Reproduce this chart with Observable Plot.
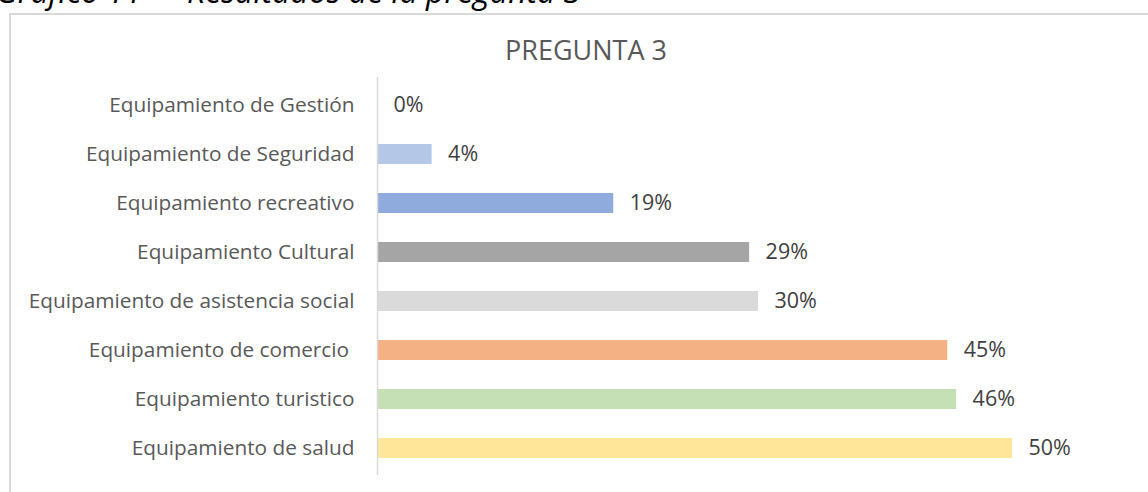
<!DOCTYPE html>
<html>
<head>
<meta charset="utf-8">
<script src="https://cdn.jsdelivr.net/npm/d3@7"></script>
<script src="https://cdn.jsdelivr.net/npm/@observablehq/plot@0.6"></script>
<style>
  html, body { margin: 0; padding: 0; background: #fff; overflow: hidden; }
  #page { position: relative; width: 1148px; height: 492px; overflow: hidden; }
  #caption { position: absolute; left: 0; top: 0; }
  #frame { position: absolute; left: 9px; top: 13px; width: 1200px; height: 600px; border: 2px solid #d9d9d9; box-sizing: border-box; }
  #title { position: absolute; left: 0; width: 1172px; top: 32px; text-align: center; font-family: "Open Sans", sans-serif; font-size: 27px; line-height: 36px; color: #595959; }
  #chart { position: absolute; left: 0; top: 0; }
</style>
</head>
<body>
<div id="page">
  <svg id="caption" width="1148" height="14" font-family="Open Sans, sans-serif" font-style="italic" font-size="32" fill="#000">
    <text x="-4" y="3">Gráfico 11</text>
    <text x="187" y="3">Resultados de la pregunta 3</text>
  </svg>
  <div id="frame"></div>
  <div id="title">PREGUNTA 3</div>
  <div id="chart"></div>
</div>
<script>
const categories = [
  "Equipamiento de Gestión",
  "Equipamiento de Seguridad",
  "Equipamiento recreativo",
  "Equipamiento Cultural",
  "Equipamiento de asistencia social",
  "Equipamiento de comercio ",
  "Equipamiento turistico",
  "Equipamiento de salud"
];
const values = [0, 0.043, 0.186, 0.293, 0.30, 0.449, 0.456, 0.50];
const colors = ["#b4c7e7", "#b4c7e7", "#8faadc", "#a5a5a5", "#dadada", "#f4b183", "#c5e0b4", "#ffe699"];

const data = categories.map((c, i) => ({category: c, value: values[i], color: colors[i]}));
const fmt = d3.format(".0%");

const chart = Plot.plot({
  width: 1148,
  height: 492,
  marginLeft: 377,
  marginRight: 136,
  marginTop: 77,
  marginBottom: 17,
  style: {fontFamily: "'Open Sans', sans-serif", background: "transparent"},
  x: {domain: [0, 0.5], axis: null},
  y: {domain: categories, paddingInner: 0.6, paddingOuter: 0.3, label: null},
  marks: [
    Plot.barX(data, {y: "category", x: "value", fill: "color"}),
    Plot.ruleX([0], {stroke: "#d9d9d9", strokeWidth: 1.5}),
    Plot.text(data, {y: "category", x: "value", text: d => fmt(d.value), textAnchor: "start", dx: 16, fontSize: 21.5, fill: "#404040"}),
    Plot.axisY({tickSize: 0, tickPadding: 23, fontSize: 20.8, color: "#595959", label: null})
  ]
});
document.getElementById("chart").appendChild(chart);
</script>
</body>
</html>
